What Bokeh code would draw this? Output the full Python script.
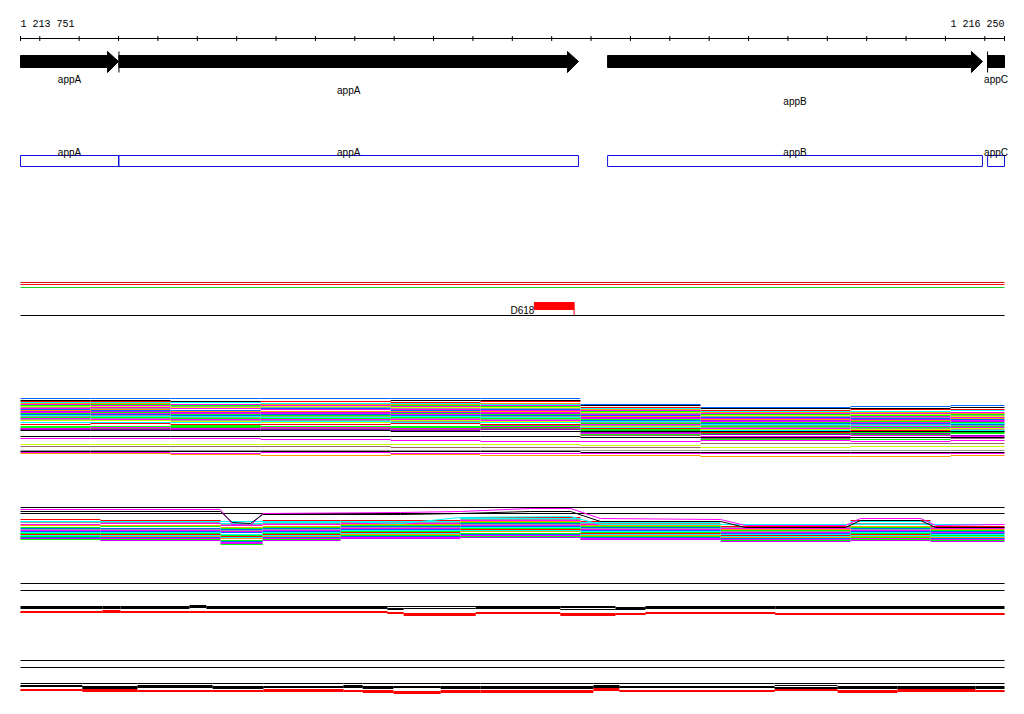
from bokeh.plotting import figure
from bokeh.models import Range1d
from bokeh.embed import file_html
from bokeh.resources import INLINE
from bokeh.core.properties import value

# ------------------------------------------------------------------ data
VIEW_START = 1213751
VIEW_END = 1216250

gene_names = ["appA", "appA", "appB", "appC"]
gene_starts = [1213751, 1214001, 1215242, 1216207]
gene_ends = [1214000, 1215168, 1216194, 1216400]
gene_label_rows = [0, 1, 2, 0]

feature_name = "D618"
feature_start = 1215056
feature_end = 1215157

# track 1 : step lines (page-row values per segment)
t1_breaks = [1213751, 1213929, 1214132, 1214361, 1214691, 1214919,
             1215173, 1215478, 1215859, 1216113, 1216250]
t1_series = [
    ("#0066ff", [398, 398, 398, 398, 398, 398, 404, 407, 406, 405]),
    ("#000000", [400, 400, 401, 401, 400, 400, 405, 408, 408, 407]),
    ("#ff0000", [401, 401, 402, 401, 402, 401, 407, 410, 409, 409]),
    ("#00ffff", [402, 402, 402, 403, 403, 404, 408, 411, 411, 410]),
    ("#ff9900", [403, 403, 404, 404, 404, 403, 409, 412, 412, 413]),
    ("#ff00ff", [404, 405, 404, 405, 406, 405, 410, 413, 413, 412]),
    ("#00ff00", [405, 404, 405, 406, 405, 406, 411, 414, 415, 414]),
    ("#ccff00", [406, 406, 407, 406, 407, 407, 412, 415, 414, 416]),
    ("#999999", [407, 408, 406, 407, 408, 408, 413, 416, 417, 415]),
    ("#ff00ff", [408, 407, 408, 409, 409, 410, 414, 418, 416, 417]),
    ("#0066ff", [409, 410, 410, 408, 410, 409, 415, 417, 418, 419]),
    ("#ff9900", [410, 409, 411, 411, 411, 411, 416, 419, 420, 418]),
    ("#cc00ff", [411, 411, 412, 412, 412, 413, 417, 420, 419, 421]),
    ("#ff00ff", [412, 413, 413, 413, 414, 412, 418, 421, 422, 420]),
    ("#00ff00", [413, 412, 414, 415, 413, 414, 419, 422, 421, 422]),
    ("#0066ff", [414, 414, 415, 414, 415, 415, 420, 423, 423, 424]),
    ("#00ffff", [415, 416, 416, 417, 416, 417, 421, 424, 425, 423]),
    ("#999999", [416, 415, 417, 416, 418, 416, 422, 425, 424, 425]),
    ("#00ff00", [417, 417, 418, 418, 417, 418, 423, 426, 427, 426]),
    ("#ff00ff", [418, 419, 419, 419, 419, 420, 424, 428, 426, 427]),
    ("#999999", [419, 418, 420, 420, 421, 419, 425, 427, 428, 429]),
    ("#ccff00", [420, 420, 421, 422, 420, 421, 426, 429, 429, 428]),
    ("#00ffff", [422, 422, 422, 421, 422, 422, 427, 430, 431, 430]),
    ("#ff0000", [424, 423, 424, 424, 423, 424, 428, 432, 430, 431]),
    ("#00ff00", [426, 426, 425, 426, 426, 425, 429, 431, 432, 433]),
    ("#00ff00", [427, 428, 426, 427, 427, 428, 434, 439, 439, 440]),
    ("#00cc00", [428, 428, 427, 428, 428, 427, 430, 433, 434, 432]),
    ("#ff00ff", [428, 427, 428, 427, 428, 426, 433, 436, 435, 436]),
    ("#996666", [429, 428, 429, 428, 429, 428, 435, 438, 437, 438]),
    ("#9900cc", [429, 429, 429, 429, 430, 429, 432, 434, 433, 435]),
    ("#000000", [430, 430, 430, 430, 431, 431, 431, 431, 431, 431]),
    ("#000000", [436, 436, 436, 436, 436, 436, 437, 437, 437, 437]),
    ("#ff00ff", [438, 438, 438, 439, 440, 441, 441, 440, 441, 440]),
    ("#ccff00", [444, 444, 444, 444, 444, 444, 445, 447, 446, 446]),
    ("#996666", [446, 446, 446, 446, 447, 447, 447, 443, 443, 443]),
    ("#999999", [450, 450, 450, 450, 450, 450, 450, 450, 450, 450]),
    ("#000000", [451, 451, 451, 451, 451, 451, 452, 452, 452, 452]),
    ("#ff00ff", [452, 452, 453, 452, 453, 453, 453, 453, 453, 453]),
    ("#ff9900", [453, 453, 454, 455, 454, 455, 455, 456, 456, 455]),
]

# track 2 : dense step lines
t2_breaks = [1213751, 1213954, 1214259, 1214366, 1214564, 1214868,
             1215173, 1215529, 1215859, 1216062, 1216250]
t2_series = [
    ("#ff0000", [519, 520, 521, 520, 520, 517, 521, 526, 520, 526]),
    ("#00ffff", [521, 521, 523, 522, 521, 518, 522, 527, 521, 527]),
    ("#999999", [522, 522, 524, 523, 522, 519, 523, 527, 523, 527]),
    ("#ff00ff", [524, 523, 525, 524, 523, 520, 524, 528, 524, 528]),
    ("#ff9900", [525, 525, 527, 526, 524, 521, 525, 529, 526, 529]),
    ("#00ff00", [527, 526, 528, 527, 525, 522, 526, 530, 527, 530]),
    ("#0066ff", [528, 528, 529, 528, 526, 523, 527, 531, 528, 531]),
    ("#999999", [529, 529, 530, 529, 527, 524, 528, 531, 529, 532]),
    ("#ff00ff", [530, 530, 531, 530, 528, 525, 529, 532, 530, 532]),
    ("#0066ff", [531, 531, 532, 531, 529, 526, 530, 533, 531, 533]),
    ("#00ffff", [532, 532, 534, 532, 530, 527, 531, 534, 532, 534]),
    ("#00ff00", [533, 533, 535, 533, 531, 528, 532, 535, 533, 535]),
    ("#ff0000", [534, 534, 536, 534, 532, 529, 533, 535, 534, 536]),
    ("#00ffff", [535, 535, 537, 535, 533, 530, 534, 536, 535, 536]),
    ("#ff9900", [536, 536, 538, 536, 534, 531, 535, 537, 536, 537]),
    ("#00ff00", [536, 537, 540, 537, 535, 533, 536, 538, 537, 538]),
    ("#0066ff", [537, 537, 541, 537, 536, 534, 537, 538, 538, 538]),
    ("#ff00ff", [538, 538, 542, 538, 537, 535, 538, 539, 538, 539]),
    ("#00ff00", [539, 539, 544, 539, 538, 536, 539, 540, 539, 540]),
    ("#cc00ff", [538, 540, 543, 540, 538, 537, 539, 541, 540, 541]),
]

# track 2 : outlier lines (sloped)
t2_wiggle_x = [1213751, 1214259, 1214289, 1214335, 1214366, 1214716, 1214868,
               1215046, 1215148, 1215224, 1215529, 1215592, 1215846, 1215884,
               1216037, 1216075, 1216250]
t2_wiggle_magenta = [509, 509, 524, 525, 513, 512, 511, 508, 508, 518, 519,
                     525, 525, 518, 518, 525, 524]
t2_wiggle_black = [511, 511, 522, 523, 514, 514, 513, 511, 511, 521, 521,
                   527, 527, 520, 520, 527, 527]
t2_cyan_x = [1213751, 1214564, 1214716, 1214868, 1215148, 1215224, 1216250]
t2_cyan_y = [521, 521, 523, 517, 516, 524, 524]

# track 3 (two-sample)
t3_breaks = [1213751, 1213959, 1214005, 1214180, 1214223, 1214683, 1214724,
             1214907, 1215122, 1215262, 1215338, 1215668, 1216250]
t3_series = [
    ("#000000", [606, 606, 606, 605, 606, 606, 606, 606, 606, 607, 606, 606]),
    ("#000000", [607, 607, 607, 606, 607, 608, 606, 607, 607, 608, 607, 607]),
    ("#000000", [608, 608, 608, 607, 608, 609, 608, 608, 609, 609, 608, 608]),
    ("#ff0000", [611, 610, 611, 611, 611, 612, 613, 612, 613, 613, 612, 613]),
    ("#ff0000", [612, 611, 612, 612, 612, 613, 614, 613, 614, 614, 613, 614]),
    ("#ff0000", [612, 612, 612, 612, 612, 613, 615, 613, 615, 614, 613, 614]),
]

# track 4 (two-sample)
t4_breaks = [1213751, 1213908, 1214048, 1214239, 1214368, 1214571, 1214620,
             1214698, 1214818, 1214919, 1215206, 1215272, 1215666, 1215826,
             1215978, 1216176, 1216250]
t4_series = [
    ("#000000", [683, 683, 683, 683, 683, 683, 683, 683, 683, 683, 683, 683, 683, 683, 683, 683]),
    ("#000000", [685, 686, 685, 686, 686, 685, 686, 686, 686, 686, 685, 686, 685, 686, 686, 686]),
    ("#000000", [686, 687, 686, 687, 687, 686, 687, 687, 687, 687, 686, 687, 687, 687, 687, 687]),
    ("#000000", [686, 688, 687, 688, 687, 687, 688, 687, 688, 688, 687, 687, 688, 688, 688, 688]),
    ("#ff0000", [689, 689, 690, 690, 689, 690, 690, 691, 690, 690, 688, 690, 689, 690, 689, 690]),
    ("#ff0000", [690, 690, 691, 691, 690, 691, 691, 692, 691, 691, 689, 691, 690, 691, 690, 691]),
    ("#ff0000", [690, 691, 691, 691, 691, 690, 692, 693, 692, 692, 690, 691, 690, 692, 691, 691]),
]

# ------------------------------------------------------------------ layout / style
PAD_LEFT_PX = 20
TRACK_PX = 984
FIG_W, FIG_H = 1016, 706
bp_per_px = (VIEW_END - VIEW_START) / TRACK_PX
X0 = VIEW_START - PAD_LEFT_PX * bp_per_px
X1 = X0 + FIG_W * bp_per_px

RULER_Y = 38
ARROW = dict(body_top=55, body_bot=67, head_top=51, head_bot=72, mid=61)
HEAD_PX = 11
LABEL_BASE = 79
LABEL_STEP = 11
BOX_TOP, BOX_BOT = 155, 166
BOX_LABEL_Y = 152
GUIDES = [(282, "#d01010"), (284, "#ff1010"), (287, "#20d020")]
FEATURE_LINE_Y = 315
FEATURE_TOP, FEATURE_BOT = 302, 309
DIVIDERS = [507, 513, 583, 590, 660, 667]

FONT = value("Liberation Sans")
MONO = value("Liberation Mono")

p = figure(width=FIG_W, height=FIG_H, x_range=Range1d(X0, X1),
           y_range=Range1d(FIG_H, 0), output_backend="svg",
           toolbar_location=None, x_axis_type=None, y_axis_type=None,
           min_border=0, outline_line_color=None)
p.grid.visible = False
p.background_fill_color = "white"

# ruler
ticks = [VIEW_START] + list(range(1213800, VIEW_END, 100)) + [VIEW_END]
p.segment(x0=[VIEW_START], y0=[RULER_Y], x1=[VIEW_END], y1=[RULER_Y],
          line_color="black", line_width=1)
p.segment(x0=ticks, x1=ticks, y0=[RULER_Y - 2.5] * len(ticks),
          y1=[RULER_Y + 2.5] * len(ticks), line_color="black", line_width=1)
fmt = lambda n: f"{n:,}".replace(",", " ")
p.text(x=[VIEW_START], y=[24], text=[fmt(VIEW_START)], text_font=MONO,
       text_font_size="10px", text_align="left", text_baseline="alphabetic")
p.text(x=[VIEW_END], y=[24], text=[fmt(VIEW_END)], text_font=MONO,
       text_font_size="10px", text_align="right", text_baseline="alphabetic")

# gene arrows
head_bp = HEAD_PX * bp_per_px
xs, ys = [], []
mx, lab_x, lab_y = [], [], []
box_l, box_r = [], []
prev_end = None
for name, s, e, row in zip(gene_names, gene_starts, gene_ends, gene_label_rows):
    cs, ce = max(s, VIEW_START), min(e, VIEW_END)
    a = ARROW
    if e <= VIEW_END:
        hx = ce - head_bp
        xs.append([cs, hx, hx, ce, hx, hx, cs])
        ys.append([a["body_top"], a["body_top"], a["head_top"], a["mid"],
                   a["head_bot"], a["body_bot"], a["body_bot"]])
    else:
        xs.append([cs, ce, ce, cs])
        ys.append([a["body_top"], a["body_top"], a["body_bot"], a["body_bot"]])
    if prev_end is not None and s - prev_end < 30:
        mx.append(s)
    prev_end = e
    lab_x.append((cs + ce) / 2)
    lab_y.append(LABEL_BASE + row * LABEL_STEP)
    box_l.append(cs)
    box_r.append(ce)

p.patches(xs=xs, ys=ys, fill_color="black", line_color="black", line_width=1)
p.segment(x0=mx, x1=mx, y0=[ARROW["head_top"]] * len(mx),
          y1=[ARROW["head_bot"]] * len(mx), line_color="black", line_width=1)
p.text(x=lab_x, y=lab_y, text=gene_names, text_font=FONT, text_font_size="10px",
       text_align="center", text_baseline="alphabetic", text_color="black")

# gene boxes
p.quad(left=box_l, right=box_r, top=[BOX_TOP] * 4, bottom=[BOX_BOT] * 4,
       fill_color=None, line_color="#1010e0", line_width=1)
p.text(x=lab_x, y=[BOX_LABEL_Y] * 4, text=gene_names, text_font=FONT,
       text_font_size="10px", text_align="center", text_baseline="alphabetic",
       text_color="black")

# guides
for gy, gc in GUIDES:
    p.segment(x0=[VIEW_START], x1=[VIEW_END], y0=[gy], y1=[gy], line_color=gc,
              line_width=1)

# feature
p.segment(x0=[VIEW_START], x1=[VIEW_END], y0=[FEATURE_LINE_Y], y1=[FEATURE_LINE_Y],
          line_color="black", line_width=1)
p.quad(left=[feature_start], right=[feature_end], top=[FEATURE_TOP],
       bottom=[FEATURE_BOT], fill_color="#ff0000", line_color="#ff0000")
p.segment(x0=[feature_end], x1=[feature_end], y0=[FEATURE_BOT],
          y1=[FEATURE_LINE_Y], line_color="#ff0000", line_width=1)
p.text(x=[feature_start], y=[310], text=[feature_name], text_font=FONT,
       text_font_size="10px", text_align="right", text_baseline="alphabetic",
       text_color="black")

# dividers
n = len(DIVIDERS)
p.segment(x0=[VIEW_START] * n, x1=[VIEW_END] * n, y0=DIVIDERS, y1=DIVIDERS,
          line_color="black", line_width=1)


def add_steps(breaks, series):
    x0, x1, y, c = [], [], [], []
    for color, vals in series:
        for i, v in enumerate(vals):
            x0.append(breaks[i])
            x1.append(breaks[i + 1])
            y.append(v)
            c.append(color)
    p.segment(x0=x0, x1=x1, y0=y, y1=y, line_color=c, line_width=1)


add_steps(t1_breaks, t1_series)
add_steps(t2_breaks, t2_series)
p.line(t2_cyan_x, t2_cyan_y, line_color="#00ffff", line_width=1)
p.line(t2_wiggle_x, t2_wiggle_magenta, line_color="#ff00ff", line_width=1)
p.line(t2_wiggle_x, t2_wiggle_black, line_color="#000000", line_width=1)
add_steps(t3_breaks, t3_series)
add_steps(t4_breaks, t4_series)

open("out.html", "w").write(file_html(p, INLINE))
